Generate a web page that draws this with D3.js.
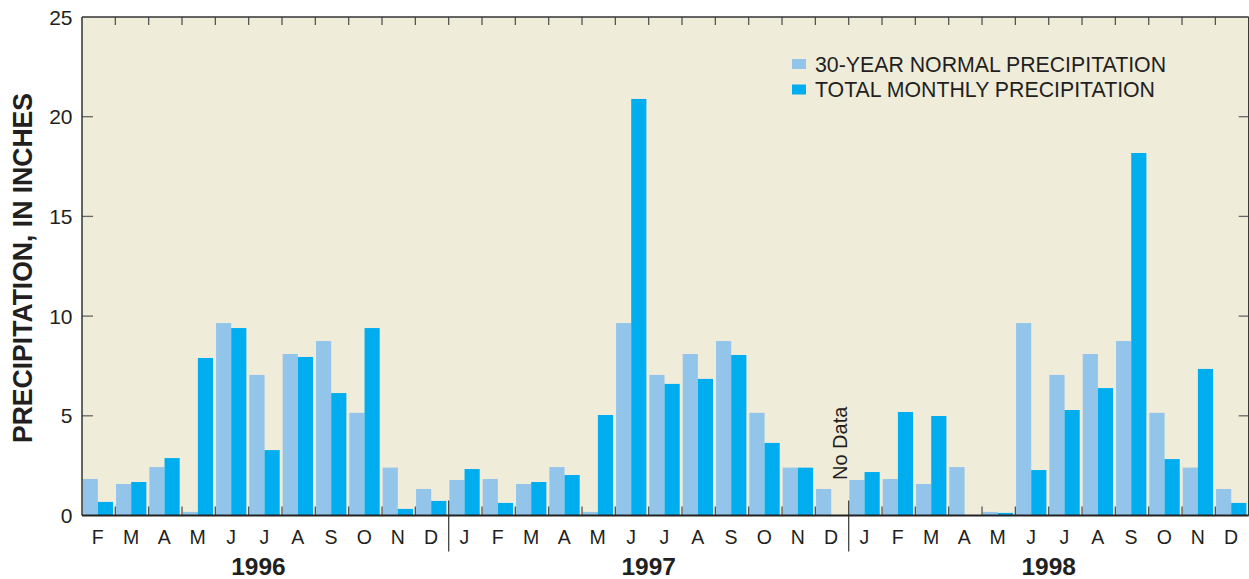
<!DOCTYPE html>
<html><head><meta charset="utf-8">
<script src="https://cdn.jsdelivr.net/npm/d3@7"></script>
<style>
html,body{margin:0;padding:0;background:#fff;}
svg{display:block;font-family:"Liberation Sans",Arial,Helvetica,sans-serif;}
</style></head>
<body>
<svg id="chart" width="1249" height="579"></svg>
<script>
// ---- data ----
const years = ["1996", "1997", "1998"];
const months1996 = ["F","M","A","M","J","J","A","S","O","N","D"];
const months1997 = ["J","F","M","A","M","J","J","A","S","O","N","D"];
const months1998 = ["J","F","M","A","M","J","J","A","S","O","N","D"];
const normal1996 = [1.83,1.58,2.43,0.18,9.65,7.05,8.10,8.75,5.15,2.40,1.33];
const normal1997 = [1.78,1.83,1.58,2.43,0.18,9.65,7.05,8.10,8.75,5.15,2.40,1.33];
const normal1998 = [1.78,1.83,1.58,2.43,0.18,9.65,7.05,8.10,8.75,5.15,2.40,1.33];
const total1996 = [0.68,1.68,2.88,7.90,9.40,3.28,7.95,6.14,9.40,0.33,0.73];
const total1997 = [2.33,0.63,1.68,2.03,5.04,20.89,6.60,6.85,8.05,3.64,2.40,null];
const total1998 = [2.18,5.19,4.99,0,0.13,2.28,5.29,6.39,18.18,2.83,7.35,0.63];
const yTicks = [0,5,10,15,20,25];
const seriesNames = ["30-YEAR NORMAL PRECIPITATION","TOTAL MONTHLY PRECIPITATION"];
const noDataLabel = "No Data";
const yTitle = "PRECIPITATION, IN INCHES";

// ---- build rows ----
const rows = [];
[[years[0],months1996,normal1996,total1996],
 [years[1],months1997,normal1997,total1997],
 [years[2],months1998,normal1998,total1998]].forEach(([yr,ms,ns,ts])=>{
  ms.forEach((m,i)=>rows.push({key:yr+"-"+i, year:yr, month:m, normal:ns[i], total:ts[i]}));
});

// ---- layout ----
const L=82, R=1248.7, T=17, B=515.5;
const colors = {normal:"#93C5EA", total:"#00AEEF"};
const svg = d3.select("#chart");

const x = d3.scaleBand().domain(rows.map(d=>d.key)).range([L,R]).padding(0);
const xs = d3.scaleBand().domain(["normal","total"]).range([0.7, x.bandwidth()-2.3]).padding(0);
const y = d3.scaleLinear().domain([0,25]).range([B,T]);

// background
svg.append("rect").attr("x",L).attr("y",T).attr("width",R-L).attr("height",B-T).attr("fill","#F0ECDA");

// bars
const g = svg.append("g");
rows.forEach(d=>{
  ["normal","total"].forEach(s=>{
    const v = d[s];
    if (v==null || v<=0) return;
    g.append("rect")
      .attr("x", x(d.key)+xs(s))
      .attr("width", xs.bandwidth())
      .attr("y", y(v))
      .attr("height", y(0)-y(v))
      .attr("fill", colors[s]);
  });
});

// month boundary ticks (bottom up, top down)
rows.forEach((d,i)=>{
  if (i===0) return;
  const bx = x(d.key);
  const yearStart = d.year !== rows[i-1].year;
  if (yearStart) {
    svg.append("line").attr("x1",bx).attr("x2",bx).attr("y1",B-15).attr("y2",B+36)
      .attr("stroke","#444").attr("stroke-width",1.3);
  } else {
    svg.append("line").attr("x1",bx).attr("x2",bx).attr("y1",B-9).attr("y2",B)
      .attr("stroke","#555").attr("stroke-width",1.3);
  }
  svg.append("line").attr("x1",bx).attr("x2",bx).attr("y1",T).attr("y2",T+8)
    .attr("stroke","#555").attr("stroke-width",1.3);
});

// y ticks left & right
yTicks.filter(t=>t>0 && t<25).forEach(t=>{
  svg.append("line").attr("x1",L).attr("x2",L+11).attr("y1",y(t)).attr("y2",y(t)).attr("stroke","#666").attr("stroke-width",1.3);
  svg.append("line").attr("x1",R-10).attr("x2",R).attr("y1",y(t)).attr("y2",y(t)).attr("stroke","#666").attr("stroke-width",1.3);
});

// frame
svg.append("line").attr("x1",L).attr("x2",R).attr("y1",T).attr("y2",T).attr("stroke","#333").attr("stroke-width",1.3);
svg.append("line").attr("x1",L).attr("x2",L).attr("y1",T).attr("y2",B).attr("stroke","#333").attr("stroke-width",1.5);
svg.append("line").attr("x1",R).attr("x2",R).attr("y1",T).attr("y2",B).attr("stroke","#333").attr("stroke-width",1.3);
svg.append("line").attr("x1",L).attr("x2",R).attr("y1",B).attr("y2",B).attr("stroke","#222").attr("stroke-width",1.8);

// y tick labels
yTicks.forEach(t=>{
  svg.append("text").attr("x",72.5).attr("y",y(t)+7.5).attr("text-anchor","end")
    .attr("font-size",21).attr("fill","#231f20").text(t);
});

// y title
svg.append("text")
  .attr("transform","translate(32,268) rotate(-90)")
  .attr("text-anchor","middle").attr("font-size",28).attr("font-weight","bold")
  .attr("textLength",350).attr("lengthAdjust","spacingAndGlyphs")
  .attr("fill","#231f20").text(yTitle);

// month labels
rows.forEach(d=>{
  svg.append("text").attr("x",x(d.key)+x.bandwidth()/2 - 1).attr("y",544)
    .attr("text-anchor","middle").attr("font-size",19.5).attr("fill","#231f20").text(d.month);
});

// year labels
const yearCenters = {"1996": 258.5};
years.forEach(yr=>{
  const ks = rows.filter(d=>d.year===yr);
  const x0 = x(ks[0].key), x1 = x(ks[ks.length-1].key)+x.bandwidth();
  const cx = yearCenters[yr] !== undefined ? yearCenters[yr] : (x0+x1)/2;
  svg.append("text").attr("x",cx).attr("y",575).attr("text-anchor","middle")
    .attr("font-size",24.5).attr("font-weight","bold").attr("fill","#231f20").text(yr);
});

// No Data label
const nd = rows.find(d=>d.year==="1997" && d.total==null);
svg.append("text")
  .attr("transform",`translate(${x(nd.key)+xs("total")+xs.bandwidth()+1},480) rotate(-90)`)
  .attr("font-size",20).attr("fill","#231f20").text(noDataLabel);

// legend
seriesNames.forEach((s,i)=>{
  const key = i===0?"normal":"total";
  svg.append("rect").attr("x",792).attr("y",59+i*25.5).attr("width",14).attr("height",10).attr("fill",colors[key]);
  svg.append("text").attr("x",815).attr("y",71.5+i*25.5).attr("font-size",21.3).attr("fill","#231f20").text(s);
});
</script>
</body></html>
